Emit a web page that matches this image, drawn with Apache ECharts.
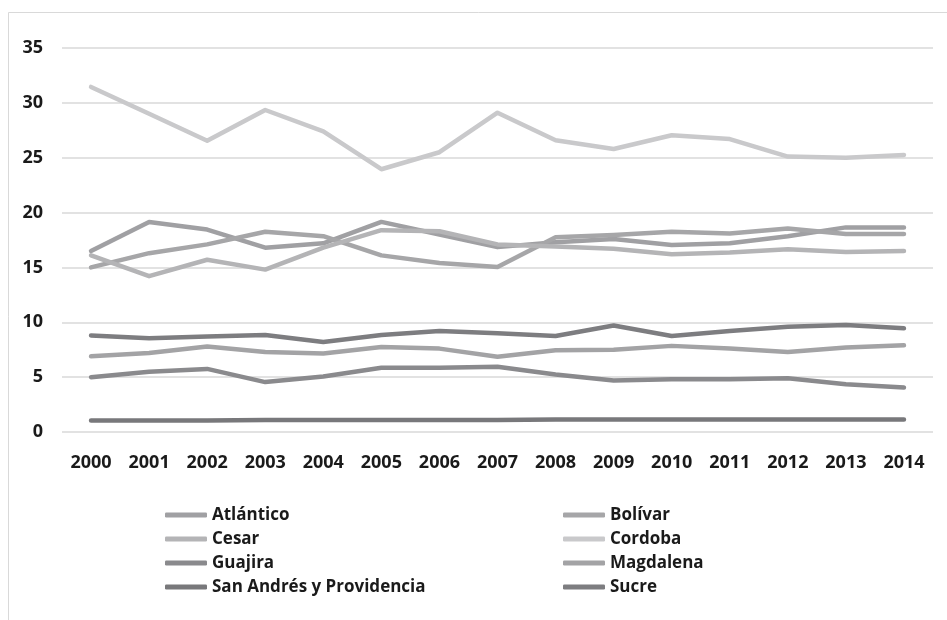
<!DOCTYPE html>
<html>
<head>
<meta charset="utf-8">
<script src="https://cdn.jsdelivr.net/npm/echarts@6/dist/echarts.min.js"></script>
<style>
html,body{margin:0;padding:0;background:#fff;}
#chart{width:947px;height:620px;}
</style>
</head>
<body>
<div id="chart"></div>
<script>
const years = ['2000','2001','2002','2003','2004','2005','2006','2007','2008','2009','2010','2011','2012','2013','2014'];
const seriesNames = ['Atlántico','Bolívar','Cesar','Cordoba','Guajira','Magdalena','San Andrés y Providencia','Sucre'];
const atlantico = [16.5,19.15,18.45,16.8,17.2,19.15,18.0,16.85,17.3,17.6,17.05,17.2,17.85,18.65,18.65];
const bolivar   = [15.0,16.3,17.1,18.25,17.85,16.1,15.4,15.05,17.75,17.95,18.25,18.1,18.55,18.05,18.05];
const cesar     = [16.1,14.2,15.7,14.8,16.8,18.4,18.3,17.1,16.9,16.7,16.2,16.35,16.65,16.4,16.5];
const cordoba   = [31.45,29.0,26.55,29.35,27.4,23.95,25.5,29.1,26.6,25.8,27.05,26.7,25.1,25.0,25.25];
const guajira   = [5.0,5.5,5.75,4.55,5.05,5.85,5.85,5.95,5.25,4.7,4.8,4.8,4.9,4.35,4.05];
const magdalena = [6.9,7.2,7.8,7.3,7.15,7.75,7.6,6.85,7.45,7.5,7.85,7.6,7.3,7.7,7.9];
const sanAndres = [1.05,1.05,1.05,1.1,1.1,1.1,1.1,1.1,1.15,1.15,1.15,1.15,1.15,1.15,1.15];
const sucre     = [8.8,8.55,8.7,8.85,8.2,8.85,9.2,9.0,8.75,9.7,8.75,9.2,9.6,9.75,9.45];
const yTicks = {min:0, max:35, interval:5};

const values = [atlantico,bolivar,cesar,cordoba,guajira,magdalena,sanAndres,sucre];
const colors = ['#a0a0a3','#a6a6a8','#b4b4b6','#c9c9cb','#8a8a8d','#a3a3a5','#78787b','#7d7d80'];
const font = '"Open Sans", Lato, sans-serif';

const chart = echarts.init(document.getElementById('chart'), null, {renderer:'canvas'});
const series = seriesNames.map((n,i)=>({
  name:n, type:'line', data:values[i], showSymbol:false, symbol:'none',
  lineStyle:{width:4.5, color:colors[i], cap:'round', join:'round'},
  itemStyle:{color:colors[i]}, z:2+i, silent:true
}));
const legendCommon = {
  orient:'vertical', itemWidth:42, itemHeight:5, icon:'roundRect', itemGap:4, padding:0,
  textStyle:{fontFamily:font, fontWeight:'bold', fontSize:17, color:'#1a1a1a', lineHeight:20}
};
chart.setOption({
  animation:false,
  backgroundColor:'#fff',
  grid:{left:62, right:14, top:48, bottom:188, containLabel:false},
  xAxis:{type:'category', data:years, boundaryGap:true,
    axisLine:{show:false}, axisTick:{show:false},
    axisLabel:{margin:22, fontFamily:font, fontWeight:'bold', fontSize:18, color:'#1a1a1a'}},
  yAxis:{type:'value', min:yTicks.min, max:yTicks.max, interval:yTicks.interval,
    axisLine:{show:false}, axisTick:{show:false},
    splitLine:{lineStyle:{color:'#d9d9d9', width:1.5}},
    axisLabel:{margin:19, fontFamily:font, fontWeight:'bold', fontSize:18, color:'#1a1a1a'}},
  legend:[
    Object.assign({left:165, top:505, data:[seriesNames[0],seriesNames[2],seriesNames[4],seriesNames[6]]}, legendCommon),
    Object.assign({left:563, top:505, data:[seriesNames[1],seriesNames[3],seriesNames[5],seriesNames[7]]}, legendCommon)
  ],
  graphic:[{type:'rect', shape:{x:8.5,y:12.5,width:1000,height:1000}, style:{fill:'none', stroke:'#d9d9d9', lineWidth:1}, silent:true, z:-10}],
  series:series
});
</script>
</body>
</html>
